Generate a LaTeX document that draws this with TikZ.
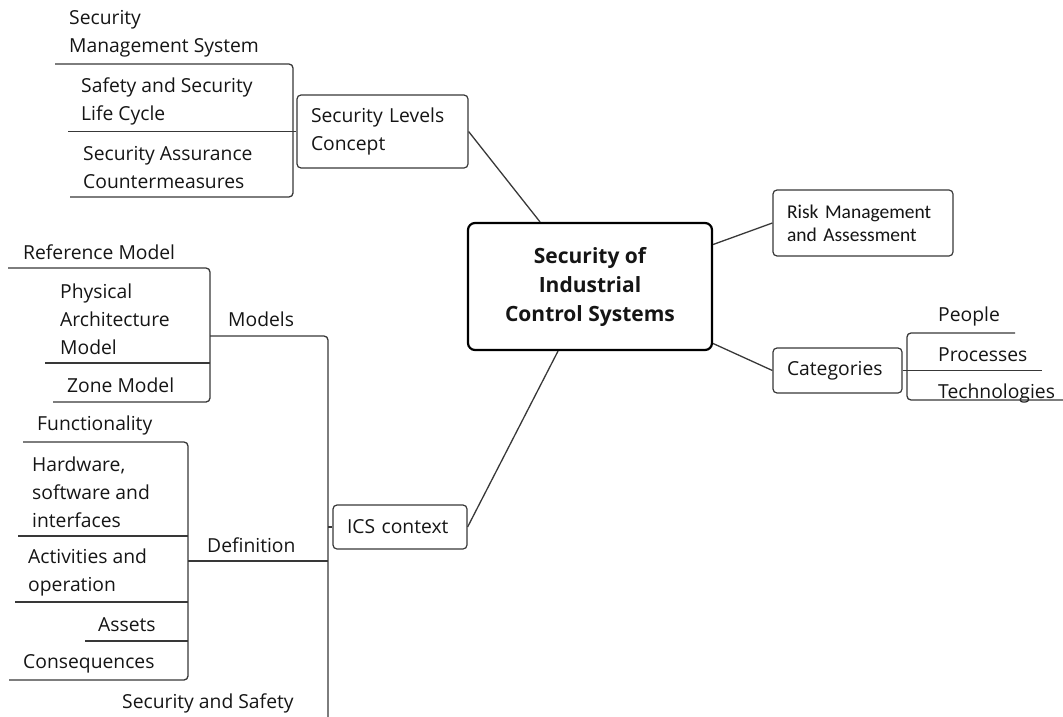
\documentclass[tikz,border=0pt]{standalone}
\usepackage{fontspec}
\setmainfont{Open Sans}
\newfontfamily\riskfont{Carlito}
\definecolor{inkgray}{HTML}{151515}
\definecolor{linegray}{HTML}{383838}
\newcommand\leaffont{\fontsize{19.3}{28}\selectfont}
\tikzset{
  leaf/.style={font=\leaffont, text=inkgray, align=left, inner sep=0, anchor=west, yshift=-2pt},
  topic/.style={draw=linegray, line width=1.2pt, rounded corners=4pt, fill=white,
    font=\leaffont, text=inkgray, align=left, inner xsep=14pt, inner ysep=0},
  branch/.style={draw=linegray, line width=1.3pt, rounded corners=4pt},
  link/.style={draw=linegray, line width=1.3pt}
}
\begin{document}
\begin{tikzpicture}[x=1pt, y=-1pt]
  \useasboundingbox (0,0) rectangle (1063,717);

  % centre
  \node[draw=black, line width=2.2pt, rounded corners=7pt, fill=white,
    minimum width=244pt, minimum height=127pt, align=center, text=inkgray,
    font=\fontsize{21}{29}\selectfont\bfseries] (main) at (590,286.5)
    {Security of\\Industrial\\Control Systems};

  % security levels
  \node[topic, text width=143pt, minimum height=73pt] (sl) at (382.5,131.5) {Security Levels\\Concept};
  \node[leaf] (sms) at (69,32) {Security\\Management System};
  \node[leaf] (sslc) at (81,99) {Safety and Security\\Life Cycle};
  \node[leaf] (sac) at (83,166) {Security Assurance\\Countermeasures};

  \coordinate (slTop) at (55,64);
  \coordinate (slBar) at (293,197);
  \coordinate (slBot) at (70,197);
  \coordinate (slMid) at (68,131.5);
  \draw[branch] (slTop) -| (slBar) -- (slBot);
  \draw[link] (slMid) -- (sl.west);
  \draw[link] (sl.east) -- ([xshift=-50pt]main.north);

  % risk
  \node[topic, font=\riskfont\fontsize{19.5}{23}\selectfont, text width=152pt, minimum height=66pt]
    (risk) at (863,223) {Risk Management\\and Assessment};
  \draw[link] ([yshift=42pt]main.east) -- (risk.west);

  % categories
  \node[topic, text width=101pt, minimum height=45pt] (cat) at (837.5,370.5) {Categories};
  \node[leaf] (people) at (938,314) {People};
  \node[leaf] (proc) at (938,353) {Processes};
  \node[leaf] (tech) at (938,391) {Technologies};

  \coordinate (ctTop) at (1015,333);
  \coordinate (ctBar) at (907,400);
  \coordinate (ctBot) at (1063,400);
  \coordinate (ctMid) at (1042,370.5);
  \draw[branch] (ctTop) -| (ctBar) -- (ctBot);
  \draw[link] (cat.east) -- (ctMid);
  \draw[link] ([yshift=-57pt]main.east) -- (cat.west);

  % ICS context
  \node[topic, text width=106pt, minimum height=44pt] (ctx) at (400,527) {ICS context};
  \coordinate (ctxBar) at (328,717);
  \draw[link] (ctx.west -| ctxBar) -- (ctx.west);
  \draw[link] ([xshift=-32pt]main.south) -- (ctx.east);

  % models
  \node[leaf] (models) at (228,317) {Models};
  \node[leaf] (refm) at (23,250) {Reference Model};
  \node[leaf] (pam) at (60,317) {Physical\\Architecture\\Model};
  \node[leaf] (zone) at (67,383) {Zone Model};

  \coordinate (mdTop) at (8,268);
  \coordinate (mdBar) at (210,402);
  \coordinate (mdBot) at (53,402);
  \coordinate (mdMid) at (45,363);
  \coordinate (mdOut) at (210,336);
  \draw[branch] (mdTop) -| (mdBar) -- (mdBot);
  \draw[link] (mdMid) -- (mdMid -| mdBar);
  \draw[branch] (mdOut) -| (ctxBar);

  % definition
  \node[leaf] (defn) at (207,543) {Definition};
  \node[leaf] (func) at (37,423) {Functionality};
  \node[leaf] (hsi) at (32,490) {Hardware,\\software and\\interfaces};
  \node[leaf] (actop) at (28,570.5) {Activities and\\operation};
  \node[leaf] (assets) at (98,623) {Assets};
  \node[leaf] (conseq) at (23,662) {Consequences};
  \node[leaf] (secsaf) at (122,701) {Security and Safety};

  \coordinate (dfTop) at (23,442);
  \coordinate (dfBar) at (188,680);
  \coordinate (dfBot) at (9,680);
  \coordinate (dfMid1) at (18,536);
  \coordinate (dfMid2) at (15,602);
  \coordinate (dfMid3) at (85,641);
  \coordinate (dfOut) at (188,561);
  \draw[branch] (dfTop) -| (dfBar) -- (dfBot);
  \draw[link] (dfMid1) -- (dfMid1 -| dfBar);
  \draw[link] (dfMid2) -- (dfMid2 -| dfBar);
  \draw[link] (dfMid3) -- (dfMid3 -| dfBar);
  \draw[link] (dfOut) -- (dfOut -| ctxBar);
\end{tikzpicture}
\end{document}
